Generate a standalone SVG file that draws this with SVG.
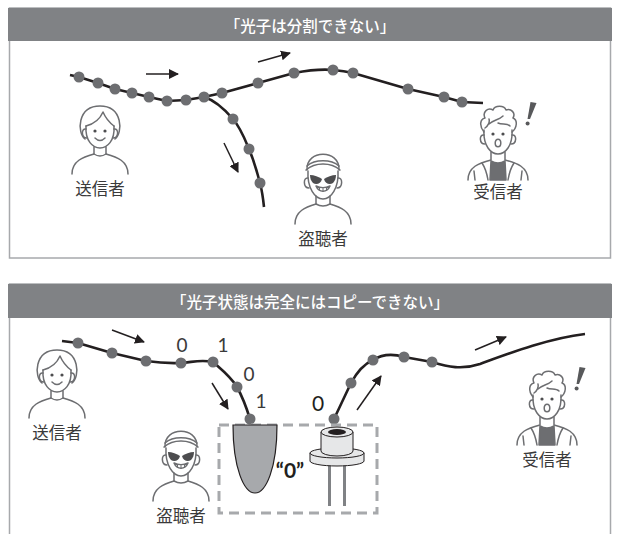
<svg xmlns="http://www.w3.org/2000/svg" xmlns:xlink="http://www.w3.org/1999/xlink" width="620" height="534" viewBox="0 0 620 534">
  <style>
    .frame { fill: #ffffff; stroke: #a7a9ac; stroke-width: 1.5; }
    .head { fill: #808285; }
    .title { font-family: "Noto Sans CJK JP", "Noto Sans", sans-serif; font-size: 15.5px; font-weight: 500; fill: #ffffff; text-anchor: middle; dominant-baseline: central; }
    .label { font-family: "Noto Sans CJK JP", "Noto Sans", sans-serif; font-size: 16.5px; fill: #3a3a3a; text-anchor: middle; dominant-baseline: central; }
    .bit { font-family: "Lato", "Noto Sans", sans-serif; font-size: 19px; fill: #3a3a3a; text-anchor: middle; dominant-baseline: central; }
    .bitb { font-family: "Lato", "Noto Sans", sans-serif; font-size: 21px; font-weight: bold; fill: #231f20; text-anchor: middle; dominant-baseline: central; }
    .bitm { font-family: "Lato", "Noto Sans", sans-serif; font-size: 21px; fill: #231f20; text-anchor: middle; dominant-baseline: central; }
    .ray { fill: none; stroke: #231f20; stroke-width: 2.6; stroke-linejoin: round; stroke-linecap: butt; }
    .ph { fill: #6d6e71; }
    .arw { fill: none; stroke: #231f20; stroke-width: 1.5; marker-end: url(#head); }
    .ico { fill: none; stroke: #6d6e71; stroke-width: 1.5; stroke-linecap: round; stroke-linejoin: round; }
    .ico .dk { fill: #4d4d4f; stroke: none; }
    .ico .sh { fill: #6d6e71; stroke: #6d6e71; }
  </style>
  <defs>
    <marker id="head" viewBox="0 0 10 10" refX="9" refY="5" markerWidth="10" markerHeight="10" markerUnits="userSpaceOnUse" orient="auto">
      <path d="M0 0 L10 5 L0 10 Z" fill="#231f20"/>
    </marker>
    <!-- woman with bob hair -->
    <g id="icon-sender" class="ico">
      <path d="M-28 46 C-28 33 -17 29 -6 26 L-6 19 M28 46 C28 33 17 29 6 26 L6 19"/>
      <path d="M-6 26 Q0 30 6 26"/>
      <path d="M-15 11 C-23 5 -23 -22 0 -22 C23 -22 23 5 15 11"/>
      <path d="M-14 -2 C-15 13 -7 20 0 20 C7 20 15 13 14 -2"/>
      <path d="M-14 -2 C-6 -4 0 -9 3 -16 C6 -9 10 -5 14 -2"/>
      <path d="M-14 1 C-19 0 -19 10 -13 10 M14 1 C19 0 19 10 13 10"/>
      <circle class="dk" cx="-5" cy="3" r="1.6"/>
      <circle class="dk" cx="5" cy="3" r="1.6"/>
      <path d="M-5 10 Q0 15 5 10"/>
    </g>
    <!-- man in cap and dark glasses -->
    <g id="icon-spy" class="ico">
      <path d="M-28 46 C-28 33 -17 29 -7 26 L-7 18 M28 46 C28 33 17 29 7 26 L7 18"/>
      <path d="M-7 26 Q0 30 7 26"/>
      <path d="M-15 -7 C-16 10 -8 21 0 21 C8 21 16 10 15 -7"/>
      <path d="M-15 0 C-20 -1 -20 10 -14 10 M15 0 C20 -1 20 10 14 10"/>
      <path d="M-16 -8 C-17 -29 17 -29 16 -8"/>
      <path d="M-17 -8 C-8 -16 8 -16 17 -8"/>
      <path d="M-16 -12 C-8 -19 8 -19 16 -12"/>
      <path class="dk" d="M-13 -3 C-9 -3 -4 -1 -1 1 C-2 6 -7 7 -10 5 C-12 3 -13 0 -13 -3 Z"/>
      <path class="dk" d="M13 -3 C9 -3 4 -1 1 1 C2 6 7 7 10 5 C12 3 13 0 13 -3 Z"/>
      <path d="M-7 8 C-4 15 4 15 7 8 C3 10 -3 10 -7 8 Z"/>
      <path d="M-3.5 9.5 L-3.5 12.5 M0 10 L0 13.5 M3.5 9.5 L3.5 12.5" stroke-width="1"/>
    </g>
    <!-- surprised young man in jacket -->
    <g id="icon-recv" class="ico">
      <path d="M-7 27 Q0 31 7 27 L8 46 L-8 46 Z" class="sh"/>
      <path d="M-30 46 C-30 33 -19 29 -7 26 L-7 18 M30 46 C30 33 19 29 7 26 L7 18"/>
      <path d="M-16 29 C-12 35 -11 40 -10 46 M16 29 C12 35 11 40 10 46"/>
      <path d="M-24 37 L-23 46 M24 37 L23 46"/>
      <path d="M-14 -4 C-15 12 -7 20 0 20 C7 20 15 12 14 -4"/>
      <path d="M-14 1 C-19 0 -19 10 -13 10 M14 1 C19 0 19 10 13 10"/>
      <path d="M-14 -2 C-19 -8 -18 -15 -13 -16 C-16 -22 -10 -27 -5 -24 C-3 -29 6 -29 8 -24 C13 -26 18 -21 15 -16 C20 -14 19 -6 14 -2"/>
      <path d="M-9 -10 C-5 -14 1 -14 5 -18 M0 -11 C4 -9 9 -11 12 -8 M-13 -6 C-10 -8 -8 -12 -9 -15"/>
      <circle class="dk" cx="-5" cy="0" r="1.6"/>
      <circle class="dk" cx="5" cy="0" r="1.6"/>
      <ellipse cx="0" cy="9" rx="2.8" ry="3.8"/>
    </g>
    <g id="icon-bang">
      <path d="M32.5 -32 L38.5 -31 L32 -15 L29.5 -15 Z" fill="#58595b"/>
      <circle cx="29.6" cy="-10.5" r="2" fill="#58595b"/>
    </g>
  </defs>

  <!-- upper panel -->
  <g id="panel-split">
    <rect class="frame" x="9.5" y="8" width="601" height="250"/>
    <rect class="head" x="8" y="8" width="604" height="33"/>
    <text class="title" x="310" y="24.5">「光子は分割できない」</text>
  </g>

  <!-- lower panel -->
  <g id="panel-copy">
    <rect class="frame" x="9.5" y="284" width="601" height="270"/>
    <rect class="head" x="8" y="284" width="604" height="34"/>
    <text class="title" x="310" y="300.5">「光子状態は完全にはコピーできない」</text>
  </g>

  <!-- photon paths, direction arrows, detectors -->
  <g id="connectors">
    <path class="ray" d="M70 75 L79 77 L98 83 L115 89 L132 93 L149 97 L167 101 L186 100 L204 97 L222 93 L258 83 L294 73 C310 70 322 69 333 70 C340 70.5 347 71.5 353 73 L408 89 L444 97 L462 102 L483 103"/>
    <path class="ray" d="M204 97 C214 100 225.5 110.3 233 119 C240.5 127.7 244.5 138.3 249 149 C253.5 159.7 257.5 173.3 260 183 C262.5 192.7 263.3 200 264 207"/>
    <g>
      <circle class="ph" cx="79" cy="77" r="5.5"/>
      <circle class="ph" cx="98" cy="83" r="5.5"/>
      <circle class="ph" cx="115" cy="89" r="5.5"/>
      <circle class="ph" cx="132" cy="93" r="5.5"/>
      <circle class="ph" cx="149" cy="97" r="5.5"/>
      <circle class="ph" cx="167" cy="101" r="5.5"/>
      <circle class="ph" cx="186" cy="100" r="5.5"/>
      <circle class="ph" cx="204" cy="97" r="5.5"/>
      <circle class="ph" cx="222" cy="93" r="5.5"/>
      <circle class="ph" cx="258" cy="83" r="5.5"/>
      <circle class="ph" cx="294" cy="73" r="5.5"/>
      <circle class="ph" cx="333" cy="70" r="5.5"/>
      <circle class="ph" cx="353" cy="73" r="5.5"/>
      <circle class="ph" cx="408" cy="89" r="5.5"/>
      <circle class="ph" cx="444" cy="97" r="5.5"/>
      <circle class="ph" cx="462" cy="102" r="5.5"/>
      <circle class="ph" cx="233" cy="119" r="5.5"/>
      <circle class="ph" cx="249" cy="149" r="5.5"/>
      <circle class="ph" cx="260" cy="183" r="5.5"/>
    </g>
    <path class="arw" d="M146 74 L178 74"/>
    <path class="arw" d="M258 62 L290 53"/>
    <path class="arw" d="M224 143 L238 172"/>

    <path class="ray" d="M62 341 L78 343 L112 353 L146 361 C160 363 170 363.5 181 363 C192 362.5 200 359 213 362 C222 370 231 377 237 387 C242 396 246 406 250 419"/>
    <path class="ray" d="M334 419 L351 383 C357 372 364 364 373 360 C384 353 394 354 404 357 L432 362 C448 367 462 370 480 364 C510 353 550 338 585 334"/>
    <g>
      <circle class="ph" cx="78" cy="343" r="5.5"/>
      <circle class="ph" cx="112" cy="353" r="5.5"/>
      <circle class="ph" cx="146" cy="361" r="5.5"/>
      <circle class="ph" cx="181" cy="363" r="5.5"/>
      <circle class="ph" cx="213" cy="362" r="5.5"/>
      <circle class="ph" cx="237" cy="387" r="5.5"/>
      <circle class="ph" cx="250" cy="419" r="5.5"/>
      <circle class="ph" cx="334" cy="419" r="5.5"/>
      <circle class="ph" cx="351" cy="383" r="5.5"/>
      <circle class="ph" cx="373" cy="360" r="5.5"/>
      <circle class="ph" cx="404" cy="357" r="5.5"/>
      <circle class="ph" cx="432" cy="362" r="5.5"/>
    </g>
    <path class="arw" d="M112 330 L144 342"/>
    <path class="arw" d="M212 383 L228 409"/>
    <path class="arw" d="M357 410 L381 376"/>
    <path class="arw" d="M475 350 L506 337"/>
  </g>

  <!-- bit values carried by the photons -->
  <g id="bits">
    <text class="bit" x="182" y="344">0</text>
    <text class="bit" x="223" y="344">1</text>
    <text class="bit" x="249" y="373">0</text>
    <text class="bit" x="261" y="400">1</text>
    <text class="bitm" x="318" y="402">0</text>
  </g>

  <!-- measure-and-resend station -->
  <g id="station">
    <rect x="219" y="425" width="158" height="88" fill="none" stroke="#a7a9ac" stroke-width="3" stroke-dasharray="10 6"/>
    <path d="M233 425 L277 425 C277 468 266 493 255 493 C244 493 233 468 233 425 Z" fill="#a7a9ac" stroke="#231f20" stroke-width="1.2"/>
    <text class="bitb" x="290" y="469">“0”</text>
    <rect x="328" y="462" width="3" height="44" fill="#808285"/>
    <rect x="343" y="462" width="3" height="44" fill="#808285"/>
    <path d="M310 453 L310 461 A27 5 0 0 0 364 461 L364 453 Z" fill="#e6e7e8" stroke="#231f20" stroke-width="1"/>
    <ellipse cx="337" cy="453" rx="27" ry="5" fill="#e6e7e8" stroke="#231f20" stroke-width="1"/>
    <path d="M321 432 L321 451 A16 5 0 0 0 353 451 L353 432 Z" fill="#e6e7e8" stroke="#231f20" stroke-width="1"/>
    <ellipse cx="337" cy="432" rx="16" ry="5" fill="#e6e7e8" stroke="#231f20" stroke-width="1"/>
    <ellipse cx="337" cy="432" rx="9" ry="3" fill="#231f20"/>
  </g>

  <!-- people -->
  <g id="sender-top" transform="translate(100 128)">
    <use xlink:href="#icon-sender"/>
    <text class="label" x="0" y="60">送信者</text>
  </g>
  <g id="spy-top" transform="translate(323 178)">
    <use xlink:href="#icon-spy"/>
    <text class="label" x="0" y="60">盗聴者</text>
  </g>
  <g id="receiver-top" transform="translate(498 134)">
    <use xlink:href="#icon-recv"/>
    <use xlink:href="#icon-bang"/>
    <text class="label" x="0" y="57">受信者</text>
  </g>
  <g id="sender-bottom" transform="translate(57 372)">
    <use xlink:href="#icon-sender"/>
    <text class="label" x="0" y="60">送信者</text>
  </g>
  <g id="spy-bottom" transform="translate(181 455)">
    <use xlink:href="#icon-spy"/>
    <text class="label" x="0" y="60">盗聴者</text>
  </g>
  <g id="receiver-bottom" transform="translate(547 399)">
    <use xlink:href="#icon-recv"/>
    <use xlink:href="#icon-bang"/>
    <text class="label" x="0" y="60">受信者</text>
  </g>
</svg>
